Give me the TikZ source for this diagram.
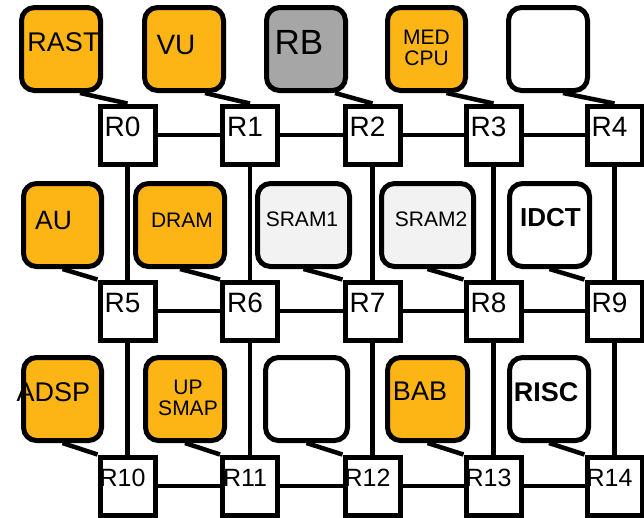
\documentclass[tikz,border=0pt]{standalone}
\usepackage{fontspec}
\setmainfont{Liberation Sans}
\usetikzlibrary{calc}
\definecolor{corange}{HTML}{FDB515}
\definecolor{cgray}{HTML}{A6A6A6}
\definecolor{clight}{HTML}{F2F2F2}
\newcommand\fsz[1]{\fontsize{#1}{#1}\selectfont}
\begin{document}
\begin{tikzpicture}[x=1pt,y=-1pt,
  core/.style={draw, line width=5pt, rounded corners=13pt, minimum height=83pt, inner sep=0pt, fill=white},
  orng/.style={core, fill=corange},
  router/.style={draw, fill=white, line width=5pt, minimum width=55pt, minimum height=58pt, inner sep=0pt},
  rlab/.style={xshift=-5pt, yshift=8pt, inner sep=0pt, font=\fsz{28}},
  rlabb/.style={xshift=-5pt, yshift=8pt, inner sep=0pt, font=\fsz{25}},
  ctext/.style={inner sep=0pt, align=center},
  link/.style={line width=4.5pt}
]
\useasboundingbox[fill=white] (0,0) rectangle (644,517);

% cores row 1
\node[orng, minimum width=79pt] (RAST) at (61,49) {};
\node[orng, minimum width=79pt] (VU) at (184,49) {};
\node[core, fill=cgray, minimum width=79pt] (RB) at (306,49) {};
\node[orng, minimum width=78pt] (MED) at (426.5,49) {};
\node[core, minimum width=79pt] (E1) at (548,49) {};
% cores row 2
\node[orng, minimum width=78pt] (AU) at (62.5,225) {};
\node[orng, minimum width=89pt] (DRAM) at (180,225) {};
\node[core, fill=clight, minimum width=92pt] (SRAM1) at (303.5,225) {};
\node[core, fill=clight, minimum width=92pt] (SRAM2) at (427.5,225) {};
\node[core, minimum width=80pt] (IDCT) at (549.5,225) {};
% cores row 3
\node[orng, minimum width=78pt] (ADSP) at (62.5,399) {};
\node[orng, minimum width=79pt] (UPSMAP) at (185,399) {};
\node[core, minimum width=82pt] (E2) at (306.5,399) {};
\node[orng, minimum width=80pt] (BAB) at (427.5,399) {};
\node[core, minimum width=79pt] (RISC) at (549,399) {};

% core texts
\node[ctext, font=\fsz{27}] (tRAST) at (63.5,42) {RAST};
\node[ctext, font=\fsz{28}] (tVU) at (176,45) {VU};
\node[ctext, font=\fsz{35}] (tRB) at (299,42) {RB};
\node[ctext, font=\fsz{21}] (tMED) at (426.5,48) {MED\\[-0.5pt]CPU};
\node[ctext, font=\fsz{26.5}] (tAU) at (53.5,221) {AU};
\node[ctext, font=\fsz{21}] (tDRAM) at (182,220) {DRAM};
\node[ctext, font=\fsz{21}] (tSRAM1) at (302,219.5) {SRAM1};
\node[ctext, font=\fsz{21}] (tSRAM2) at (431,219.5) {SRAM2};
\node[ctext, font=\bfseries\fsz{26}] (tIDCT) at (550.5,218) {IDCT};
\node[ctext, font=\fsz{27}] (tADSP) at (53.5,392) {ADSP};
\node[ctext, font=\fsz{21}] (tUPSMAP) at (188,398) {UP\\[-0.5pt]SMAP};
\node[ctext, font=\fsz{27}] (tBAB) at (420,391) {BAB};
\node[ctext, font=\bfseries\fsz{27}] (tRISC) at (546,392) {RISC};

% routers
\node[router, label={[rlab]center:R0}] (R0) at (127.5,135) {};
\node[router, label={[rlab]center:R1}] (R1) at (250,135) {};
\node[router, label={[rlab]center:R2}] (R2) at (372.5,135) {};
\node[router, label={[rlab]center:R3}] (R3) at (493.5,135) {};
\node[router, label={[rlab]center:R4}] (R4) at (614.5,135) {};
\node[router, label={[rlab]center:R5}] (R5) at (127.5,311) {};
\node[router, label={[rlab]center:R6}] (R6) at (250,311) {};
\node[router, label={[rlab]center:R7}] (R7) at (372.5,311) {};
\node[router, label={[rlab]center:R8}] (R8) at (493.5,311) {};
\node[router, label={[rlab]center:R9}] (R9) at (614.5,311) {};
\node[router, label={[rlabb]center:R10}] (R10) at (127.5,486) {};
\node[router, label={[rlabb]center:R11}] (R11) at (250,486) {};
\node[router, label={[rlabb]center:R12}] (R12) at (372.5,486) {};
\node[router, label={[rlabb]center:R13}] (R13) at (493.5,486) {};
\node[router, label={[rlabb]center:R14}] (R14) at (614.5,486) {};

% mesh links
\foreach \a/\b in {R0/R1,R1/R2,R2/R3,R3/R4,R5/R6,R6/R7,R7/R8,R8/R9,R10/R11,R11/R12,R12/R13,R13/R14}
  \draw[link] (\a.east) -- (\b.west);
\foreach \a/\b in {R0/R5,R1/R6,R2/R7,R3/R8,R4/R9,R5/R10,R6/R11,R7/R12,R8/R13,R9/R14}
  \draw[link] (\a.south) -- (\b.north);

% core to router links
\draw[link] ($(RAST.south)+(19,0)$) -- (R0.north);
\draw[link] ($(VU.south)+(21,0)$) -- (R1.north);
\draw[link] ($(RB.south)+(29,0)$) -- (R2.north);
\draw[link] ($(MED.south)+(20,0)$) -- (R3.north);
\draw[link] ($(E1.south)+(15,0)$) -- (R4.north);
\foreach \c/\r in {AU/R5,DRAM/R6,SRAM1/R7,SRAM2/R8,IDCT/R9,ADSP/R10,UPSMAP/R11,E2/R12,BAB/R13,RISC/R14}
  \draw[link] (\c.south) -- (\r.north west);
\end{tikzpicture}
\end{document}
